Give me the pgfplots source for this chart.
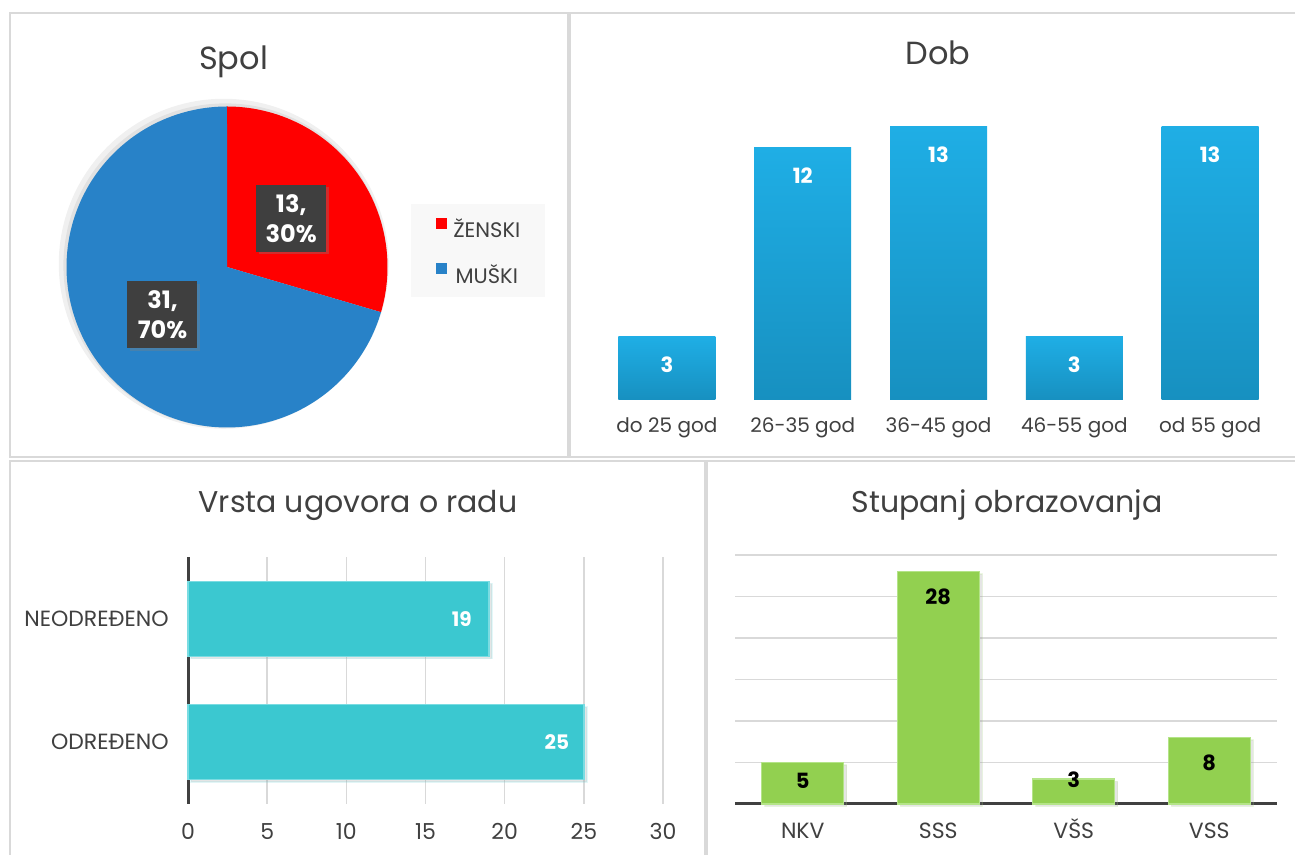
\documentclass[border=0pt]{standalone}
\usepackage{fontspec}
\setmainfont{Poppins}
\usepackage{pgfplots}
\usepackage{pgfplotstable}
\pgfplotsset{compat=1.18}
\usetikzlibrary{shadows}
\definecolor{txt}{HTML}{404040}
\definecolor{frame}{HTML}{D9D9D9}
\definecolor{pieRed}{HTML}{FF0000}
\definecolor{pieBlue}{HTML}{2882C8}
\definecolor{dobTop}{HTML}{1FAEE5}
\definecolor{dobBot}{HTML}{1790C0}
\definecolor{tealc}{HTML}{3BC8D0}
\definecolor{tealEdge}{HTML}{7ADCE2}
\definecolor{greenc}{HTML}{92D050}
\definecolor{greenEdge}{HTML}{B4E488}
\definecolor{gridc}{HTML}{D9D9D9}
\definecolor{lab}{HTML}{3F3F3F}
\definecolor{legbg}{HTML}{F8F8F8}
\pgfplotsset{/pgf/number format/assume math mode=true}

\pgfplotstableread{
cat val
0 25
1 19
}\ugovor
\pgfplotstableread{
cat val off
0 5 -9
1 28 -12.5
2 3 -0.5
3 8 -12.5
}\obraz

\begin{document}
\begin{tikzpicture}
\useasboundingbox (0,0) rectangle (647.5pt,427.5pt);
\fill[white] (0,0) rectangle (647.5pt,427.5pt);
% frames
\draw[frame, line width=0.7pt] (5pt,421pt) rectangle (284pt,199pt);
\draw[frame, line width=0.7pt] (647.5pt,421pt) -- (285pt,421pt) -- (285pt,199pt) -- (647.5pt,199pt);
\draw[frame, line width=0.7pt] (5pt,0pt) -- (5pt,197pt) -- (352.5pt,197pt) -- (352.5pt,0pt);
\draw[frame, line width=0.7pt] (353.5pt,0pt) -- (353.5pt,197pt) -- (647.5pt,197pt);
% titles
\node[anchor=base, text=txt, font=\fontsize{16}{20}\selectfont] at (116.75pt,392.5pt) {Spol};
\node[anchor=base, text=txt, font=\fontsize{16}{20}\selectfont] at (469pt,395pt) {Dob};
\node[anchor=base, text=txt, font=\fontsize{15}{18}\selectfont] at (179pt,171pt) {Vrsta ugovora o radu};
\node[anchor=base, text=txt, font=\fontsize{15}{18}\selectfont] at (503.5pt,171pt) {Stupanj obrazovanja};

% ---------- Spol (pie) ----------
\pgfmathsetmacro\angA{90-360*13/(13+31)}
\begin{axis}[at={(33.25pt,213.75pt)}, anchor=south west, scale only axis,
  width=160.5pt, height=160.5pt, xmin=-1, xmax=1, ymin=-1, ymax=1,
  hide axis, clip=false,
  legend style={at={(1.073,0.699)}, anchor=north west, fill=legbg, draw=none,
    font=\fontsize{10.5}{12}\selectfont, text=txt, inner xsep=12.5pt, inner ysep=7pt,
    row sep=12.5pt, nodes={inner sep=0pt, text height=7.5pt, text depth=0pt},
    /tikz/every odd column/.append style={column sep=3pt}},
  legend image code/.code={\fill[#1] (0pt,0.9pt) rectangle (5.5pt,6.4pt);}]
\fill[black, opacity=0.06] (axis cs:-0.02,0.02) circle[radius=82.5pt];
\fill[black, opacity=0.06] (axis cs:-0.01,0.01) circle[radius=81pt];
\addplot[draw=none, fill=pieRed, domain=90:\angA, samples=80] ({cos(x)},{sin(x)}) -- (axis cs:0,0) -- cycle;
\addlegendentry{ŽENSKI}
\addplot[draw=none, fill=pieBlue, domain=\angA:-270, samples=200] ({cos(x)},{sin(x)}) -- (axis cs:0,0) -- cycle;
\addlegendentry{MUŠKI}
\node[fill=lab, text=white, font=\bfseries\fontsize{12}{15}\selectfont, align=center,
  minimum width=35pt, minimum height=33.5pt, inner sep=0pt,
  drop shadow={opacity=0.35, shadow xshift=1.2pt, shadow yshift=-1.2pt}] at (axis cs:0.40,0.302) {13,\\30\%};
\node[fill=lab, text=white, font=\bfseries\fontsize{12}{15}\selectfont, align=center,
  minimum width=35pt, minimum height=33.5pt, inner sep=0pt,
  drop shadow={opacity=0.35, shadow xshift=1.2pt, shadow yshift=-1.2pt}] at (axis cs:-0.402,-0.299) {31,\\70\%};
\end{axis}

% ---------- Dob ----------
\begin{axis}[at={(299.5pt,227.5pt)}, anchor=south west, scale only axis,
  width=339.5pt, height=147pt, xmin=-0.5, xmax=4.5, ymin=0, ymax=14,
  axis line style={draw=none}, ytick=\empty, xtick={0,1,2,3,4},
  xticklabels={do 25 god, 26-35 god, 36-45 god, 46-55 god, od 55 god},
  major tick length=0pt, clip=false, no markers,
  xticklabel style={anchor=base, inner sep=0pt, yshift=-16.5pt, text=txt, font=\fontsize{10}{12}\selectfont},
  every axis plot/.append style={ybar, bar width=48.5pt, bar shift=0pt, draw=none,
    top color=dobTop, bottom color=dobBot, nodes near coords,
    every node near coord/.append style={anchor=center, yshift=-14pt, text=white,
      font=\bfseries\fontsize{10.5}{12}\selectfont}}]
\addplot[mark=none] coordinates {(0,3)};
\addplot[mark=none] coordinates {(1,12)};
\addplot[mark=none] coordinates {(2,13)};
\addplot[mark=none] coordinates {(3,3)};
\addplot[mark=none] coordinates {(4,13)};
\end{axis}

% ---------- Vrsta ugovora ----------
\begin{axis}[at={(94pt,25.5pt)}, anchor=south west, scale only axis,
  width=237.5pt, height=123.5pt, xmin=0, xmax=30, ymin=-0.5, ymax=1.5,
  xtick={0,5,...,30}, ytick={0,1}, yticklabels={ODREĐENO, NEODREĐENO},
  xmajorgrids, grid style={gridc, line width=0.7pt},
  axis lines*=left, x axis line style={draw=none},
  y axis line style={-, txt, line width=1.5pt},
  major tick length=0pt, clip=false,
  xticklabel style={anchor=base, inner sep=0pt, yshift=-18pt, text=txt, font=\fontsize{11}{13}\selectfont},
  yticklabel style={anchor=east, inner sep=0pt, xshift=-9.5pt, text=txt, font=\fontsize{11}{13}\selectfont}]
\addplot[xbar, bar width=37.5pt, bar shift=0pt, fill=tealc, draw=tealEdge, line width=0.7pt,
  drop shadow={opacity=0.2, shadow xshift=1.5pt, shadow yshift=-1.2pt},
  nodes near coords,
  every node near coord/.append style={anchor=center, xshift=-13.5pt, text=white,
    font=\bfseries\fontsize{10}{12}\selectfont}]
  table[x=val, y=cat] {\ugovor};
\end{axis}

% ---------- Stupanj obrazovanja ----------
\begin{axis}[at={(367.5pt,25.5pt)}, anchor=south west, scale only axis,
  width=271pt, height=124.5pt, xmin=-0.5, xmax=3.5, ymin=0, ymax=30,
  ytick={5,10,...,30}, yticklabels={}, ymajorgrids, grid style={gridc, line width=0.7pt},
  xtick={0,1,2,3}, xticklabels={NKV, SSS, VŠS, VSS},
  axis lines*=left, y axis line style={draw=none},
  x axis line style={-, txt, line width=1.5pt},
  major tick length=0pt, clip=false,
  xticklabel style={anchor=base, inner sep=0pt, yshift=-17.5pt, text=txt, font=\fontsize{11}{13}\selectfont}]
\addplot[ybar, bar width=41pt, bar shift=0pt, fill=greenc, draw=greenEdge, line width=0.7pt,
  drop shadow={opacity=0.2, shadow xshift=1.5pt, shadow yshift=-1.2pt},
  visualization depends on={\thisrow{off} \as \off},
  nodes near coords,
  every node near coord/.append style={anchor=center, yshift=\off pt, text=black,
    font=\bfseries\fontsize{10.5}{12}\selectfont}]
  table[x=cat, y=val] {\obraz};
\end{axis}
\end{tikzpicture}
\end{document}
